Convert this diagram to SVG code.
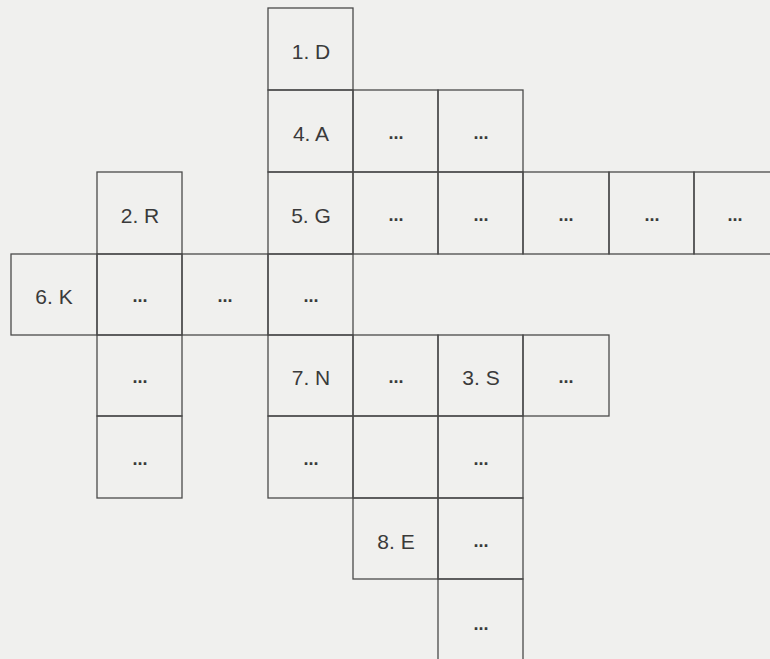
<svg xmlns="http://www.w3.org/2000/svg" width="770" height="659" viewBox="0 0 770 659">
<style>
.c{fill:none;stroke:#4a4a4a;stroke-width:1.3}
.t{font-family:"Liberation Sans",Arial,sans-serif;font-size:21px;fill:#3a3a3a;text-anchor:middle}
.d{font-family:"Liberation Sans",Arial,sans-serif;font-size:18px;font-weight:bold;fill:#3a3a3a;text-anchor:middle}
</style>
<rect x="0" y="0" width="770" height="659" fill="#f0f0ee"/>
<g id="cells">
<g id="c-1D"><rect class="c" x="268" y="8" width="85" height="82"/><text class="t" x="311" y="59">1. D</text></g>
<g id="c-4A"><rect class="c" x="268" y="90" width="85" height="82"/><text class="t" x="311" y="141">4. A</text></g>
<g id="c-r1c4"><rect class="c" x="353" y="90" width="85" height="82"/><text class="d" x="396" y="139">...</text></g>
<g id="c-r1c5"><rect class="c" x="438" y="90" width="85" height="82"/><text class="d" x="481" y="139">...</text></g>
<g id="c-2R"><rect class="c" x="97" y="172" width="85" height="82"/><text class="t" x="140" y="223">2. R</text></g>
<g id="c-5G"><rect class="c" x="268" y="172" width="85" height="82"/><text class="t" x="311" y="223">5. G</text></g>
<g id="c-r2c4"><rect class="c" x="353" y="172" width="85" height="82"/><text class="d" x="396" y="221">...</text></g>
<g id="c-r2c5"><rect class="c" x="438" y="172" width="85" height="82"/><text class="d" x="481" y="221">...</text></g>
<g id="c-r2c6"><rect class="c" x="523" y="172" width="86" height="82"/><text class="d" x="566" y="221">...</text></g>
<g id="c-r2c7"><rect class="c" x="609" y="172" width="85" height="82"/><text class="d" x="652" y="221">...</text></g>
<g id="c-r2c8"><rect class="c" x="694" y="172" width="90" height="82"/><text class="d" x="735" y="221">...</text></g>
<g id="c-6K"><rect class="c" x="11" y="254" width="86" height="81"/><text class="t" x="54" y="304">6. K</text></g>
<g id="c-r3c1"><rect class="c" x="97" y="254" width="85" height="81"/><text class="d" x="140" y="302">...</text></g>
<g id="c-r3c2"><rect class="c" x="182" y="254" width="86" height="81"/><text class="d" x="225" y="302">...</text></g>
<g id="c-r3c3"><rect class="c" x="268" y="254" width="85" height="81"/><text class="d" x="311" y="302">...</text></g>
<g id="c-r4c1"><rect class="c" x="97" y="335" width="85" height="81"/><text class="d" x="140" y="383">...</text></g>
<g id="c-7N"><rect class="c" x="268" y="335" width="85" height="81"/><text class="t" x="311" y="385">7. N</text></g>
<g id="c-r4c4"><rect class="c" x="353" y="335" width="85" height="81"/><text class="d" x="396" y="383">...</text></g>
<g id="c-3S"><rect class="c" x="438" y="335" width="85" height="81"/><text class="t" x="481" y="385">3. S</text></g>
<g id="c-r4c6"><rect class="c" x="523" y="335" width="86" height="81"/><text class="d" x="566" y="383">...</text></g>
<g id="c-r5c1"><rect class="c" x="97" y="416" width="85" height="82"/><text class="d" x="140" y="465">...</text></g>
<g id="c-r5c3"><rect class="c" x="268" y="416" width="85" height="82"/><text class="d" x="311" y="465">...</text></g>
<g id="c-r5c4"><rect class="c" x="353" y="416" width="85" height="82"/></g>
<g id="c-r5c5"><rect class="c" x="438" y="416" width="85" height="82"/><text class="d" x="481" y="465">...</text></g>
<g id="c-8E"><rect class="c" x="353" y="498" width="85" height="81"/><text class="t" x="396" y="549">8. E</text></g>
<g id="c-r6c5"><rect class="c" x="438" y="498" width="85" height="81"/><text class="d" x="481" y="547">...</text></g>
<g id="c-r7c5"><rect class="c" x="438" y="579" width="85" height="90"/><text class="d" x="481" y="630">...</text></g>
</g>
<g id="connectors"/>
</svg>
